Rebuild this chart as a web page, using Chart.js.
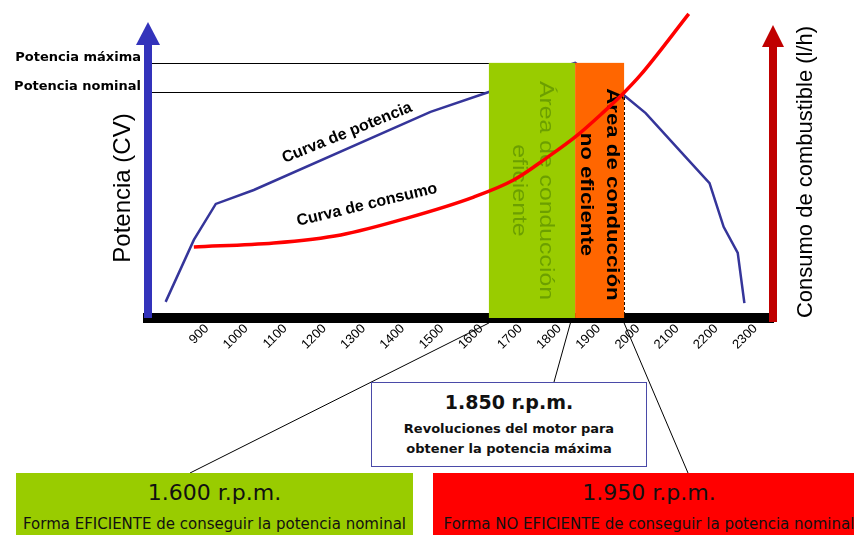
<!DOCTYPE html>
<html>
<head>
<meta charset="utf-8">
<script src="https://cdn.jsdelivr.net/npm/chart.js@4.4.0/dist/chart.umd.min.js"></script>
<style>
  html, body { margin: 0; padding: 0; background: #fff; overflow: hidden; }
  #wrap { position: relative; width: 854px; height: 535px; }
  #chart { position: absolute; left: 0; top: 0; }
  .box { position: absolute; text-align: center; font-family: "DejaVu Sans", sans-serif; color: #111; }
  #boxMax { left: 371px; top: 382px; width: 274px; height: 83px; border: 1px solid #4a4aa8; background: #fff; }
  #boxMax .big { font-weight: bold; font-size: 19px; margin-top: 8px; }
  #boxMax .small { font-weight: bold; font-size: 13px; line-height: 20px; margin-top: 6px; }
  #boxEff { left: 16px; top: 473px; width: 397px; height: 62px; background: #99cc00; }
  #boxIneff { left: 433px; top: 473px; width: 432px; height: 62px; background: #ff0000; }
  .big2 { font-size: 22px; margin-top: 6px; line-height: 28px; }
  .small2 { font-size: 15px; margin-top: 7px; line-height: 20px; white-space: nowrap; }
</style>
</head>
<body>
<div id="wrap">
  <canvas id="chart" width="854" height="535"></canvas>
  <div class="box" id="boxMax">
    <div class="big">1.850 r.p.m.</div>
    <div class="small">Revoluciones del motor para<br>obtener la potencia máxima</div>
  </div>
  <div class="box" id="boxEff">
    <div class="big2">1.600 r.p.m.</div>
    <div class="small2">Forma EFICIENTE de conseguir la potencia nominal</div>
  </div>
  <div class="box" id="boxIneff">
    <div class="big2">1.950 r.p.m.</div>
    <div class="small2">Forma NO EFICIENTE de conseguir la potencia nominal</div>
  </div>
</div>
<script>
// engine speed (r.p.m.) tick labels
const rpmTicks = [900, 1000, 1100, 1200, 1300, 1400, 1500, 1600, 1700, 1800, 1900, 2000, 2100, 2200, 2300];

// power curve (no units on the picture, 0-100 relative)
const powerRpm = [795, 867, 923, 1020, 1471, 1620, 1840, 1964, 2020, 2117, 2183, 2219, 2255, 2272];
const powerValues = [5.2, 25.2, 36.8, 41.3, 66.5, 72.9, 82.3, 71.9, 66.1, 52.6, 43.5, 29.4, 21.0, 4.8];

// fuel consumption curve
const fuelRpm = [867, 1071, 1242, 1413, 1581, 1683, 1770, 1846, 1913, 1964, 2007, 2130];
const fuelValues = [22.9, 24.2, 26.8, 32.3, 39.0, 44.5, 51.9, 59.0, 66.5, 72.6, 78.4, 98.1];

// zone limits: efficient start, max power, inefficient end
const zoneRpm = [1620, 1840, 1965];

// marks on the power axis
const powerMarkValues = [82.3, 72.9];
const powerMarkLabels = ["Potencia máxima", "Potencia nominal"];

const ARIAL = '"Liberation Sans", Arial, sans-serif';

function toPoints(xs, ys) {
  return xs.map((v, i) => ({ x: v, y: ys[i] }));
}

// write several lines rotated 90deg (reading top to bottom), centred on cx, cy
function drawVerticalText(ctx, lines, cx, cy, font, color, gap, stretch) {
  ctx.save();
  ctx.translate(cx, cy);
  ctx.rotate(Math.PI / 2);
  ctx.scale(stretch, 1);
  ctx.font = font;
  ctx.fillStyle = color;
  ctx.textAlign = "center";
  ctx.textBaseline = "middle";
  lines.forEach((line, i) => {
    ctx.fillText(line, 0, (i - (lines.length - 1) / 2) * gap);
  });
  ctx.restore();
}

function drawArrow(ctx, x, yBottom, yTip, shaft, headHalf, headLen, color) {
  ctx.save();
  ctx.fillStyle = color;
  ctx.fillRect(x - shaft / 2, yTip + headLen - 2, shaft, yBottom - yTip - headLen + 2);
  ctx.beginPath();
  ctx.moveTo(x, yTip);
  ctx.lineTo(x + headHalf, yTip + headLen);
  ctx.lineTo(x - headHalf, yTip + headLen);
  ctx.closePath();
  ctx.fill();
  ctx.restore();
}

const sketchPlugin = {
  id: "sketch",
  beforeDatasetsDraw(chart) {
    const { ctx, chartArea: area, scales: { x, y } } = chart;
    const xs = x.getPixelForValue(zoneRpm[0]);
    const xe = x.getPixelForValue(zoneRpm[2]);
    ctx.save();
    // thin guide lines for max / nominal power
    ctx.strokeStyle = "#000";
    ctx.lineWidth = 1;
    powerMarkValues.forEach((v) => {
      const py = Math.round(y.getPixelForValue(v)) + 0.5;
      ctx.beginPath();
      ctx.moveTo(area.left, py);
      ctx.lineTo(xs, py);
      ctx.stroke();
    });
    // dashed drops from nominal power
    const yn = y.getPixelForValue(powerMarkValues[1]);
    ctx.setLineDash([3, 2]);
    [xs, xe].forEach((px) => {
      ctx.beginPath();
      ctx.moveTo(Math.round(px) + 0.5, yn);
      ctx.lineTo(Math.round(px) + 0.5, area.bottom);
      ctx.stroke();
    });
    ctx.restore();
  },
  afterDatasetDraw(chart, args) {
    if (args.index !== 1) return; // cover the power curve, under the fuel curve
    const { ctx, chartArea: area, scales: { x, y } } = chart;
    const x0 = x.getPixelForValue(zoneRpm[0]);
    const x1 = x.getPixelForValue(zoneRpm[1]);
    const x2 = x.getPixelForValue(zoneRpm[2]);
    const top = y.getPixelForValue(powerMarkValues[0]);
    ctx.save();
    ctx.fillStyle = "#99cc00";
    ctx.fillRect(x0, top, x1 - x0, area.bottom - top);
    ctx.fillStyle = "#ff6600";
    ctx.fillRect(x1, top, x2 - x1, area.bottom - top);
    ctx.restore();
    const midY = (top + area.bottom) / 2;
    drawVerticalText(ctx, ["Área de conducción", "eficiente"], (x0 + x1) / 2, midY,
      "21px " + ARIAL, "#6c9f00", 27, 1.18);
    drawVerticalText(ctx, ["Área de conducción", "no eficiente"], (x1 + x2) / 2, midY + 4,
      "bold 19px " + ARIAL, "#000", 26, 1.17);
  },
  afterDraw(chart) {
    const { ctx, chartArea: area, scales: { x, y } } = chart;

    // axis arrows
    drawArrow(ctx, area.left, area.bottom, 22, 8, 12, 23, "#3333bb");
    drawArrow(ctx, area.right, area.bottom + 4, 25, 8, 11, 22, "#c00000");

    // axis titles
    ctx.save();
    ctx.fillStyle = "#000";
    ctx.textAlign = "center";
    ctx.textBaseline = "middle";
    ctx.translate(123, 188);
    ctx.rotate(-Math.PI / 2);
    ctx.font = "24px " + ARIAL;
    ctx.fillText("Potencia (CV)", 0, 0);
    ctx.restore();

    ctx.save();
    ctx.fillStyle = "#000";
    ctx.textAlign = "center";
    ctx.textBaseline = "middle";
    ctx.translate(806, 172);
    ctx.rotate(-Math.PI / 2);
    ctx.font = "22px " + ARIAL;
    ctx.fillText("Consumo de combustible (l/h)", 0, 0);
    ctx.restore();

    // curve names
    const curveNames = [
      { text: "Curva de potencia", rpm: 1258, val: 59.7, angle: -22 },
      { text: "Curva de consumo", rpm: 1309, val: 36.5, angle: -13.4 },
    ];
    curveNames.forEach((c) => {
      ctx.save();
      ctx.translate(x.getPixelForValue(c.rpm), y.getPixelForValue(c.val));
      ctx.rotate((c.angle * Math.PI) / 180);
      ctx.font = "bold 16px " + ARIAL;
      ctx.fillStyle = "#000";
      ctx.textAlign = "center";
      ctx.textBaseline = "middle";
      ctx.fillText(c.text, 0, 0);
      ctx.restore();
    });

    // connectors from the boxes to the axis
    const axisY = area.bottom + 5;
    const links = [
      [190, 473, zoneRpm[0]],
      [554, 382, zoneRpm[1] - 12],
      [688, 473, zoneRpm[2]],
    ];
    ctx.save();
    ctx.strokeStyle = "#000";
    ctx.lineWidth = 1;
    links.forEach(([bx, by, rpm]) => {
      ctx.beginPath();
      ctx.moveTo(bx, by);
      ctx.lineTo(x.getPixelForValue(rpm), axisY);
      ctx.stroke();
    });
    ctx.restore();
  },
};

const ctx = document.getElementById("chart").getContext("2d");
new Chart(ctx, {
  type: "line",
  data: {
    datasets: [
      {
        label: "Curva de consumo",
        data: toPoints(fuelRpm, fuelValues),
        borderColor: "#ff0000",
        borderWidth: 3.5,
        pointRadius: 0,
        cubicInterpolationMode: "monotone",
        order: 1,
      },
      {
        label: "Curva de potencia",
        data: toPoints(powerRpm, powerValues),
        borderColor: "#35359a",
        borderWidth: 2.5,
        pointRadius: 0,
        tension: 0,
        order: 2,
      },
    ],
  },
  options: {
    responsive: false,
    animation: false,
    devicePixelRatio: 1,
    layout: { padding: { left: 0, top: 8, right: 81, bottom: 177 } },
    plugins: { legend: { display: false }, tooltip: { enabled: false } },
    scales: {
      x: {
        type: "linear",
        min: 750,
        max: 2345,
        grid: { display: false, drawTicks: false },
        border: { display: true, width: 10, color: "#000" },
        afterBuildTicks: (scale) => {
          scale.ticks = rpmTicks.map((v) => ({ value: v }));
        },
        afterFit: (scale) => {
          scale.height = 40;
          scale.paddingLeft = 0;
          scale.paddingRight = 0;
        },
        ticks: {
          autoSkip: false,
          minRotation: 45,
          maxRotation: 45,
          padding: 3,
          color: "#000",
          font: { family: "Liberation Sans", size: 13 },
          callback: (v) => String(v),
        },
      },
      y: {
        min: 0,
        max: 100,
        grid: { display: false, drawTicks: false },
        border: { display: false },
        afterBuildTicks: (scale) => {
          scale.ticks = powerMarkValues.map((v) => ({ value: v }));
        },
        afterFit: (scale) => {
          scale.width = 148;
          scale.paddingTop = 0;
          scale.paddingBottom = 0;
        },
        ticks: {
          padding: 7,
          labelOffset: -5,
          color: "#000",
          font: { family: "DejaVu Sans", size: 13, weight: "bold" },
          callback: (v) => powerMarkLabels[powerMarkValues.indexOf(v)],
        },
      },
    },
  },
  plugins: [sketchPlugin],
});
</script>
</body>
</html>
